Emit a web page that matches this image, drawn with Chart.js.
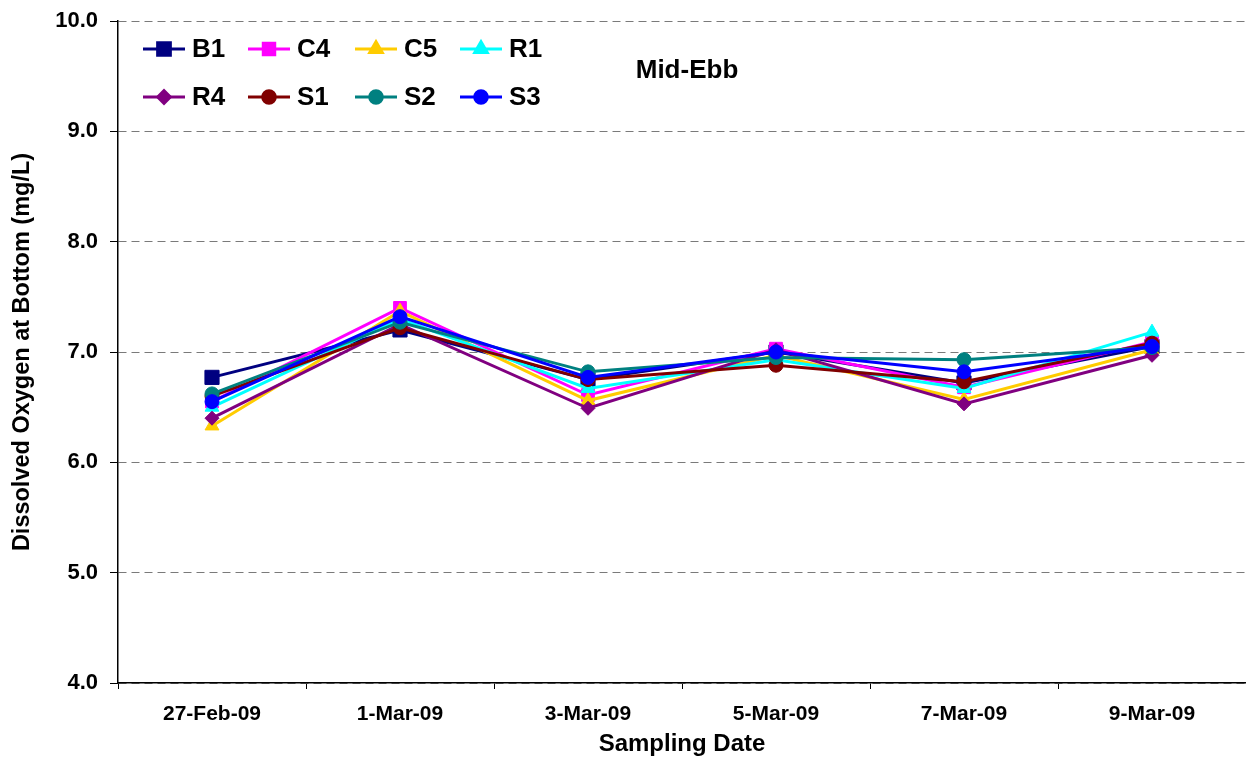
<!DOCTYPE html>
<html>
<head>
<meta charset="utf-8">
<script src="https://cdn.jsdelivr.net/npm/chart.js@4.4.0/dist/chart.umd.min.js"></script>
<style>
  html, body { margin: 0; padding: 0; background: #fff; }
  #wrap { width: 1246px; height: 760px; position: relative; }
</style>
</head>
<body>
<div id="wrap"><canvas id="doChart"></canvas></div>
<script>
const dates = ["27-Feb-09", "1-Mar-09", "3-Mar-09", "5-Mar-09", "7-Mar-09", "9-Mar-09"];
const yTicks = [4, 5, 6, 7, 8, 9, 10];

const B1 = [6.77, 7.2, 6.75, 7.0, 6.72, 7.05];
const C4 = [6.55, 7.4, 6.61, 7.03, 6.68, 7.09];
const C5 = [6.33, 7.37, 6.56, 6.97, 6.57, 7.02];
const R1 = [6.5, 7.3, 6.67, 6.93, 6.67, 7.18];
const R4 = [6.4, 7.25, 6.49, 7.02, 6.53, 6.97];
const S1 = [6.6, 7.22, 6.75, 6.88, 6.73, 7.08];
const S2 = [6.62, 7.27, 6.82, 6.95, 6.93, 7.04];
const S3 = [6.55, 7.32, 6.77, 7.0, 6.82, 7.05];

const FONT = "'Liberation Sans', Arial, sans-serif";

function series(label, data, color, style, radius) {
  return {
    label: label,
    data: data,
    borderColor: color,
    backgroundColor: color,
    borderWidth: 3,
    tension: 0,
    pointStyle: style,
    pointRadius: radius,
    pointHoverRadius: radius,
    pointBorderWidth: 1,
  };
}

const datasets = [
  series("B1", B1, "#000080", "rect", 10),
  series("C4", C4, "#FF00FF", "rect", 9),
  series("C5", C5, "#FFCC00", "triangle", 8),
  series("R1", R1, "#00FFFF", "triangle", 8),
  series("R4", R4, "#800080", "rectRot", 7),
  series("S1", S1, "#800000", "circle", 7),
  series("S2", S2, "#008080", "circle", 7),
  series("S3", S3, "#0000FF", "circle", 7),
];
// later series sit on top, like the spreadsheet did
datasets.forEach((ds, i) => (ds.order = datasets.length - i));

// legend boxed inside the plot, two rows of four, plus the "Mid-Ebb" note
const insideLegend = {
  id: "insideLegend",
  afterDraw(chart) {
    const ctx = chart.ctx;
    const cols = [143, 248, 355, 460];
    const rows = [49, 97];
    ctx.save();
    chart.data.datasets.forEach((ds, i) => {
      const x = cols[i % 4];
      const y = rows[Math.floor(i / 4)];
      ctx.strokeStyle = ds.borderColor;
      ctx.lineWidth = 3;
      ctx.beginPath();
      ctx.moveTo(x, y);
      ctx.lineTo(x + 42, y);
      ctx.stroke();
      ctx.fillStyle = ds.backgroundColor;
      Chart.helpers.drawPoint(ctx, {
        pointStyle: ds.pointStyle,
        radius: ds.pointRadius * 0.9,
        rotation: 0,
        borderWidth: 1,
      }, x + 21, y);
      ctx.fillStyle = "#000";
      ctx.font = "bold 26px " + FONT;
      ctx.textAlign = "left";
      ctx.textBaseline = "middle";
      ctx.fillText(ds.label, x + 49, y + 1);
    });
    ctx.font = "bold 26px " + FONT;
    ctx.textAlign = "center";
    ctx.fillText("Mid-Ebb", 687, 71);
    ctx.restore();
  },
};

const ctx_1 = document.getElementById("doChart");

new Chart(ctx_1, {
  type: "line",
  data: {
    labels: dates,
    datasets: datasets,
  },
  options: {
    responsive: true,
    maintainAspectRatio: false,
    animation: false,
    layout: { autoPadding: false, padding: { top: 21, right: 0, left: 0, bottom: 0 } },
    plugins: {
      legend: { display: false },
      tooltip: { enabled: false },
    },
    scales: {
      x: {
        offset: true,
        grid: {
          offset: true,
          drawOnChartArea: false,
          color: "#000",
          tickLength: 6,
        },
        border: { color: "#000", width: 1.5 },
        ticks: {
          color: "#000",
          font: { family: FONT, size: 21, weight: "bold" },
          padding: 13,
          maxRotation: 0,
        },
        title: {
          display: true,
          text: "Sampling Date",
          color: "#000",
          font: { family: FONT, size: 24, weight: "bold" },
          padding: { top: 0, bottom: 1 },
        },
        afterFit(scale) {
          scale.height = 77;
          scale.paddingLeft = 0;
          scale.paddingRight = 0;
        },
      },
      y: {
        min: 4,
        max: 10,
        afterBuildTicks(scale) {
          scale.ticks = yTicks.map((v) => ({ value: v }));
        },
        grid: {
          color: "#7a7a7a",
          tickColor: "#000",
          tickLength: 8,
          lineWidth: 1,
        },
        border: { color: "#000", width: 1.5, dash: [8, 5] },
        ticks: {
          color: "#000",
          font: { family: FONT, size: 22, weight: "bold" },
          padding: 12,
          callback: (v) => Number(v).toFixed(1),
        },
        title: {
          display: true,
          text: "Dissolved Oxygen at Bottom (mg/L)",
          color: "#000",
          font: { family: FONT, size: 23.5, weight: "bold" },
          padding: { top: 8, bottom: 0 },
        },
        afterFit(scale) {
          scale.width = 118;
          scale.paddingTop = 0;
          scale.paddingBottom = 0;
        },
      },
    },
  },
  plugins: [insideLegend],
});
</script>
</body>
</html>
